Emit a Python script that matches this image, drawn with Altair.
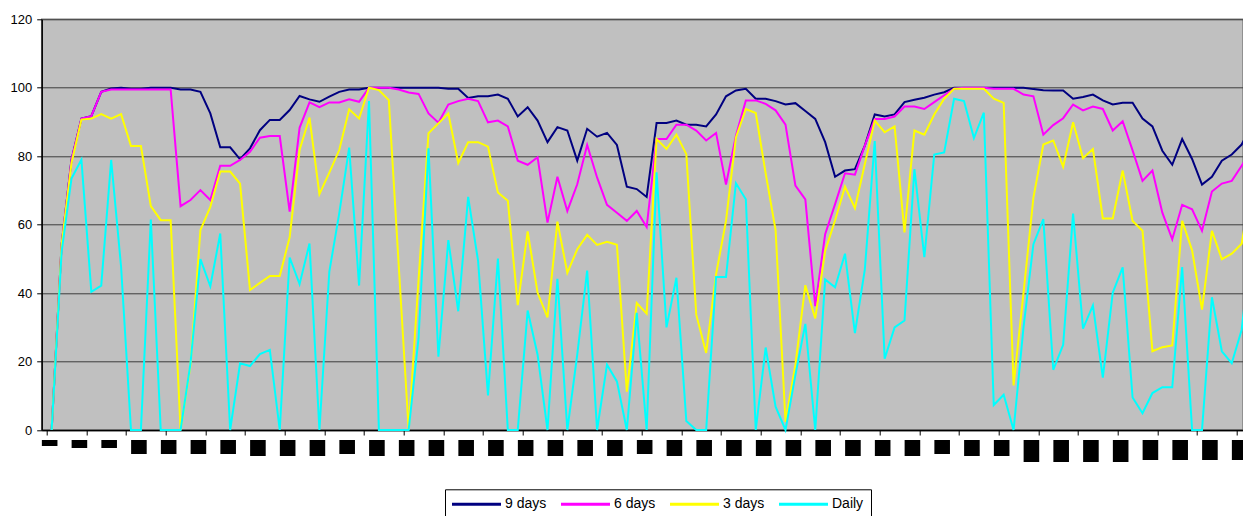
import altair as alt
import pandas as pd

series_names = ["9 days", "6 days", "3 days", "Daily"]
series_colors = ["#000080", "#FF00FF", "#FFFF00", "#00FFFF"]

nine_days = [0, 54, 79, 91, 91.7, 98.8, 99.8, 100, 99.7, 99.7,
             100, 100, 100, 99.5, 99.5, 98.8, 92.5, 82.6, 82.6, 79.1,
             82.3, 87.6, 90.6, 90.6, 93.5, 97.6, 96.6, 95.9, 97.4, 98.8,
             99.5, 99.5, 100, 100, 100, 100, 100, 100, 100, 100,
             99.7, 99.7, 97, 97.5, 97.5, 98, 96.8, 91.6, 94.3, 90.4,
             84.1, 88.5, 87.5, 78.7, 88, 85.7, 86.8, 83.3, 71.1, 70.4,
             68.1, 89.7, 89.7, 90.4, 89.2, 89.2, 88.7, 92.2, 97.5, 99.2,
             99.7, 96.8, 96.8, 96.1, 95.1, 95.5, 93.2, 90.9, 84.1, 74,
             75.8, 76.2, 83.1, 92.2, 91.6, 92.2, 95.8, 96.5, 97.1, 98,
             98.7, 100, 100, 100, 100, 100, 100, 100, 100, 99.6,
             99.3, 99.2, 99.2, 96.8, 97.3, 98, 96.3, 95.1, 95.6, 95.6,
             91, 88.7, 81.6, 77.5, 85, 79.2, 71.7, 74, 78.7, 80.5,
             83.4, 89]

six_days = [0, 54, 79, 91, 91.7, 98.8, 99.5, 99.5, 99.5, 99.5,
            99.5, 99.5, 99.5, 65.4, 67.2, 70.1, 67.2, 77.2, 77.2, 78.9,
            81.3, 85.4, 85.9, 85.9, 63.8, 88.3, 95.7, 94.3, 95.7, 95.7,
            96.6, 95.9, 100, 100, 100, 99.5, 98.6, 98.2, 92.5, 89.8,
            95.1, 96.1, 96.8, 96.1, 89.9, 90.4, 88.7, 78.7, 77.5, 79.7,
            60.6, 74, 64, 71.8, 83.3, 73.8, 65.8, 63.5, 61.1, 64,
            59.3, 85, 85, 89.2, 89.2, 87.5, 84.6, 86.8, 71.7, 86,
            96.3, 96.3, 95.3, 93.4, 89.2, 71.4, 67.4, 36.2, 57.2, 66,
            75, 74.6, 83.1, 90.9, 90.9, 91.6, 94.5, 94.5, 93.8, 95.8,
            97.8, 99.7, 100, 100, 100, 99.7, 99.7, 99.7, 98, 97.5,
            86.3, 89.1, 91.1, 95.1, 93.4, 94.5, 93.8, 87.5, 90.2, 81.7,
            72.8, 75.8, 63.5, 55.7, 65.8, 64.5, 58.2, 69.7, 72, 72.8,
            77.2, 82]

three_days = [0, 54, 78, 90.7, 91, 92.3, 91, 92.3, 83, 83,
              65.4, 61.3, 61.3, 0, 19, 58.4, 65.2, 75.5, 75.5, 72,
              40.9, 43, 45, 45, 56.3, 81.8, 91.3, 68.9, 75.2, 81.8,
              93.7, 91, 100, 99.3, 96.4, 48, 0, 44, 86.7, 89.6,
              92.5, 78, 84.1, 84.1, 82.8, 69.4, 67, 36.5, 58, 40.1,
              32.9, 60.9, 45.9, 52.8, 57, 54.1, 55, 54.1, 11.2, 37.1,
              34, 85, 82.1, 86.3, 80.6, 33.7, 22.5, 45.5, 61.1, 85.5,
              93.8, 92.6, 75, 58.4, 2.4, 19.1, 42.3, 32.6, 52.3, 61.3,
              71.1, 64.8, 77.7, 90.4, 87, 88.7, 57.7, 87.5, 86.3, 92.2,
              96.8, 99.7, 99.7, 99.7, 99.7, 96.8, 95.6, 13, 40, 67.9,
              83.4, 84.6, 76.9, 89.9, 79.4, 82.1, 61.8, 61.8, 75.8, 61.1,
              58.2, 23, 24.2, 24.7, 61.1, 52.5, 35.2, 58.2, 49.9, 51.5,
              54.4, 72]

daily = [0, 52, 73.5, 79, 40.4, 42.2, 78.9, 47.7, 0, 0,
         61.5, 0, 0, 0, 19.5, 49.9, 42, 57.4, 0, 19.5,
         18.7, 22.2, 23.4, 0, 50.4, 42.6, 54.5, 0, 46.3, 63.3,
         82.5, 42.2, 96.1, 0, 0, 0, 0, 27, 82.3, 21.4,
         55.5, 34.7, 68.1, 49.4, 10.1, 50.1, 0, 0, 34.9, 22,
         0, 44.2, 0, 22, 46.6, 0, 19.1, 14.2, 0, 34.2,
         0, 75.3, 30, 44.5, 2.6, 0, 0, 44.7, 44.7, 72.1,
         67.4, 0, 24.1, 6.8, 0, 16.1, 31, 0, 44, 41.7,
         51.5, 28.3, 46.9, 84.4, 20.8, 30, 32, 76.2, 50.5, 80.5,
         81.1, 96.8, 96.1, 85.3, 92.7, 7.3, 10.3, 0, 30, 54.3,
         61.6, 17.6, 24.9, 63.2, 29.6, 36.4, 15.3, 40.1, 47.5, 9.5,
         4.9, 10.8, 12.5, 12.5, 47.6, 0, 0, 38.8, 23, 19.5,
         29.3, 55]

# category labels rendered as solid blocks (one every 3 categories): their lengths
label_len = [6, 8, 8, 14, 14, 14, 14, 16, 16, 16,
             14, 16, 16, 16, 16, 16, 16, 16, 16, 16,
             14, 16, 16, 16, 16, 16, 16, 16, 16, 16,
             14, 16, 16, 22, 22, 22, 22, 20, 20, 20, 20]

y_ticks = [0, 20, 40, 60, 80, 100, 120]

rows = []
for name, vals in zip(series_names, [nine_days, six_days, three_days, daily]):
    for i, v in enumerate(vals):
        rows.append({"idx": i, "value": v, "series": name})
df = pd.DataFrame(rows)

blocks = pd.DataFrame({
    "idx": [3 * k for k in range(len(label_len))],
    "top": [0] * len(label_len),
    "len": label_len,
})

n_cat = len(nine_days)
x_scale = alt.Scale(domain=[-0.5, 119.63], nice=False, zero=False)

lines = alt.Chart(df).mark_line(strokeWidth=2).encode(
    x=alt.X("idx:Q", scale=x_scale,
            axis=alt.Axis(values=[i - 0.5 for i in range(n_cat)], labels=False,
                          title=None, grid=False, tickSize=5, tickColor="black",
                          domainColor="black", domainWidth=1.5, tickWidth=1)),
    y=alt.Y("value:Q", scale=alt.Scale(domain=[0, 120], nice=False),
            axis=alt.Axis(values=y_ticks, title=None, grid=True,
                          gridColor="#3c3c3c", gridWidth=1, tickSize=5,
                          tickColor="black", domainColor="black", domainWidth=1.5,
                          labelFont="Liberation Sans", labelFontSize=13,
                          labelColor="black", labelPadding=5)),
    color=alt.Color("series:N",
                    scale=alt.Scale(domain=series_names, range=series_colors),
                    sort=series_names,
                    legend=alt.Legend(orient="none", legendX=403.3, legendY=470,
                                      direction="horizontal", title=None,
                                      symbolType="M-4,0H4", symbolSize=150,
                                      symbolStrokeWidth=3, symbolOffset=16.5,
                                      labelFont="Liberation Sans", labelFontSize=14,
                                      labelColor="black", labelOffset=20.5,
                                      columnPadding=8, padding=7,
                                      strokeColor="black", fillColor="white")),
)

blk = alt.Chart(blocks).mark_bar(size=15.6, xOffset=-2, color="black").encode(
    x=alt.X("idx:Q", scale=x_scale),
    y=alt.Y("top:Q", scale=alt.Scale(domain=[0, 40], range=[420.7, 460.7]), axis=None),
    y2="len:Q",
)

chart = alt.layer(lines, blk).resolve_scale(y="independent").properties(
    width=1201.3,
    height=410.7,
    autosize=alt.AutoSizeParams(type="none"),
    padding={"left": 33.7, "top": 11.3, "right": 0, "bottom": 90},
    background="white",
).configure_view(fill="#C0C0C0", stroke="#808080", strokeWidth=1.5)

chart.save("out.html", embed_options={"renderer": "svg", "actions": False})
